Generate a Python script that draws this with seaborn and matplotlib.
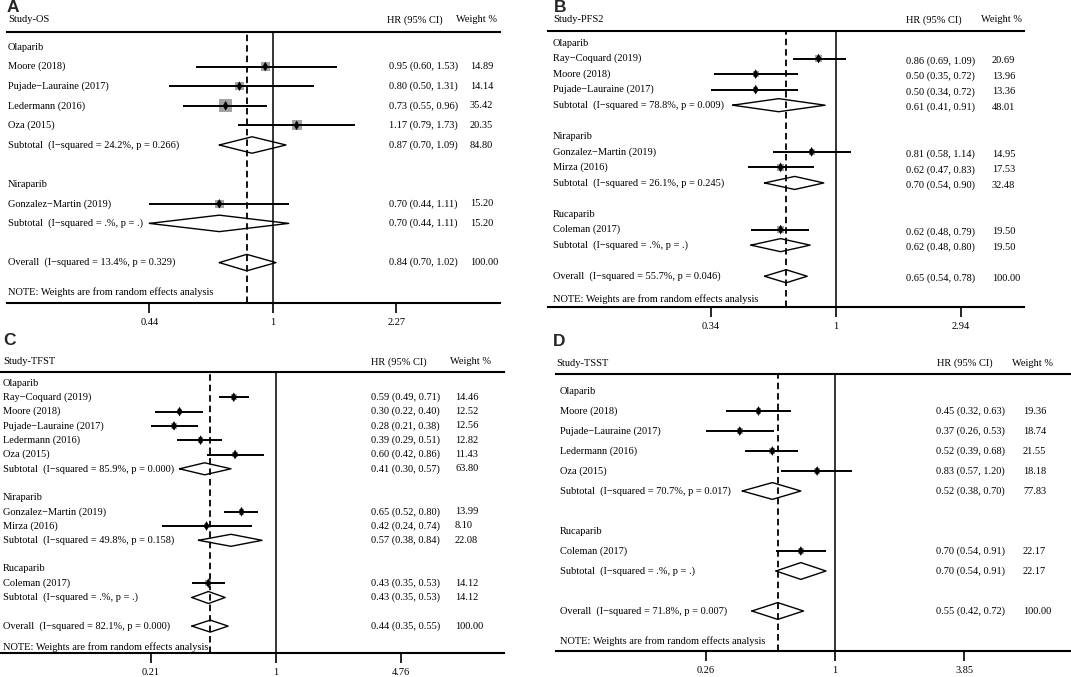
import numpy as np
import pandas as pd
import seaborn as sns
import matplotlib.pyplot as plt
from matplotlib.ticker import NullLocator
from matplotlib.transforms import blended_transform_factory

# ---- A: overall survival ----
os_groups = ["Olaparib", "Niraparib"]
os_group_idx = [0, 0, 0, 0, 1]
os_studies = ["Moore (2018)", "Pujade\u2212Lauraine (2017)", "Ledermann (2016)", "Oza (2015)",
              "Gonzalez\u2212Martin (2019)"]
os_hr = [0.95, 0.80, 0.73, 1.17, 0.70]
os_lo = [0.60, 0.50, 0.55, 0.79, 0.44]
os_hi = [1.53, 1.31, 0.96, 1.73, 1.11]
os_weight = [14.89, 14.14, 35.42, 20.35, 15.20]
os_sub_hr = [0.87, 0.70]
os_sub_lo = [0.70, 0.44]
os_sub_hi = [1.09, 1.11]
os_sub_weight = [84.80, 15.20]
os_sub_i2 = ["24.2%", ".%"]
os_sub_p = ["0.266", "."]
os_overall = [0.84, 0.70, 1.02, 100.00]
os_overall_het = ["13.4%", "0.329"]
os_ticks = [0.44, 1, 2.27]

# ---- B: PFS2 ----
pfs2_groups = ["Olaparib", "Niraparib", "Rucaparib"]
pfs2_group_idx = [0, 0, 0, 1, 1, 2]
pfs2_studies = ["Ray\u2212Coquard (2019)", "Moore (2018)", "Pujade\u2212Lauraine (2017)",
                "Gonzalez\u2212Martin (2019)", "Mirza (2016)", "Coleman (2017)"]
pfs2_hr = [0.86, 0.50, 0.50, 0.81, 0.62, 0.62]
pfs2_lo = [0.69, 0.35, 0.34, 0.58, 0.47, 0.48]
pfs2_hi = [1.09, 0.72, 0.72, 1.14, 0.83, 0.79]
pfs2_weight = [20.69, 13.96, 13.36, 14.95, 17.53, 19.50]
pfs2_sub_hr = [0.61, 0.70, 0.62]
pfs2_sub_lo = [0.41, 0.54, 0.48]
pfs2_sub_hi = [0.91, 0.90, 0.80]
pfs2_sub_weight = [48.01, 32.48, 19.50]
pfs2_sub_i2 = ["78.8%", "26.1%", ".%"]
pfs2_sub_p = ["0.009", "0.245", "."]
pfs2_overall = [0.65, 0.54, 0.78, 100.00]
pfs2_overall_het = ["55.7%", "0.046"]
pfs2_ticks = [0.34, 1, 2.94]

# ---- C: TFST ----
tfst_groups = ["Olaparib", "Niraparib", "Rucaparib"]
tfst_group_idx = [0, 0, 0, 0, 0, 1, 1, 2]
tfst_studies = ["Ray\u2212Coquard (2019)", "Moore (2018)", "Pujade\u2212Lauraine (2017)",
                "Ledermann (2016)", "Oza (2015)", "Gonzalez\u2212Martin (2019)", "Mirza (2016)",
                "Coleman (2017)"]
tfst_hr = [0.59, 0.30, 0.28, 0.39, 0.60, 0.65, 0.42, 0.43]
tfst_lo = [0.49, 0.22, 0.21, 0.29, 0.42, 0.52, 0.24, 0.35]
tfst_hi = [0.71, 0.40, 0.38, 0.51, 0.86, 0.80, 0.74, 0.53]
tfst_weight = [14.46, 12.52, 12.56, 12.82, 11.43, 13.99, 8.10, 14.12]
tfst_sub_hr = [0.41, 0.57, 0.43]
tfst_sub_lo = [0.30, 0.38, 0.35]
tfst_sub_hi = [0.57, 0.84, 0.53]
tfst_sub_weight = [63.80, 22.08, 14.12]
tfst_sub_i2 = ["85.9%", "49.8%", ".%"]
tfst_sub_p = ["0.000", "0.158", "."]
tfst_overall = [0.44, 0.35, 0.55, 100.00]
tfst_overall_het = ["82.1%", "0.000"]
tfst_ticks = [0.21, 1, 4.76]

# ---- D: TSST ----
tsst_groups = ["Olaparib", "Rucaparib"]
tsst_group_idx = [0, 0, 0, 0, 1]
tsst_studies = ["Moore (2018)", "Pujade\u2212Lauraine (2017)", "Ledermann (2016)", "Oza (2015)",
                "Coleman (2017)"]
tsst_hr = [0.45, 0.37, 0.52, 0.83, 0.70]
tsst_lo = [0.32, 0.26, 0.39, 0.57, 0.54]
tsst_hi = [0.63, 0.53, 0.68, 1.20, 0.91]
tsst_weight = [19.36, 18.74, 21.55, 18.18, 22.17]
tsst_sub_hr = [0.52, 0.70]
tsst_sub_lo = [0.38, 0.54]
tsst_sub_hi = [0.70, 0.91]
tsst_sub_weight = [77.83, 22.17]
tsst_sub_i2 = ["70.7%", ".%"]
tsst_sub_p = ["0.017", "."]
tsst_overall = [0.55, 0.42, 0.72, 100.00]
tsst_overall_het = ["71.8%", "0.007"]
tsst_ticks = [0.26, 1, 3.85]

W, H = 1071, 677
FS = 7.5

sns.set_theme(style="white")
plt.rcParams['font.family'] = ['Liberation Serif', 'DejaVu Serif']


def forest(fig, letter, title, groups, gidx, studies, hr, lo, hi, w,
           sub_hr, sub_lo, sub_hi, sub_w, sub_i2, sub_p, overall, overall_het, ticks, L):
    """ one Stata-style forest plot panel, laid out in pixel units """
    ax = fig.add_axes([L['left'] / W, 1 - L['bottom'] / H,
                       (L['right'] - L['left']) / W, (L['bottom'] - L['top']) / H])
    ax.set_xscale('log')
    ax.set_xlim(np.exp((L['left'] - L['x1']) / L['ppl']), np.exp((L['right'] - L['x1']) / L['ppl']))
    ax.set_ylim((L['bottom'] - L['row0']) / L['drow'], (L['top'] - L['row0']) / L['drow'])

    # row positions
    rows_group, rows_study, rows_sub = [], [], []
    r = 0
    for g in range(len(groups)):
        rows_group.append(r)
        r += 1
        for i in range(len(studies)):
            if gidx[i] == g:
                rows_study.append(r)
                r += 1
        rows_sub.append(r)
        r += 2
    r_all = r

    # reference lines
    ax.axvline(1, color='black', lw=1.1, zorder=1)
    ax.axvline(overall[0], color='black', lw=1.3, ls=(0, (3.6, 2.2)), zorder=1)

    # study boxes, CIs, point estimates
    df = pd.DataFrame({'hr': hr, 'row': rows_study, 'w': w})
    amax = (0.72 * L['box'] * L['drow']) ** 2 * max(w)
    sns.scatterplot(data=df, x='hr', y='row', size='w', sizes=(0, amax), size_norm=(0, max(w)),
                    marker='s', color='#a3a3a3', edgecolor='none', legend=False, ax=ax, zorder=2)
    ax.hlines(rows_study, lo, hi, color='black', lw=1.4, zorder=3)
    sns.scatterplot(data=df, x='hr', y='row', marker='d', s=24, color='black',
                    edgecolor='none', legend=False, ax=ax, zorder=4)

    # pooled diamonds
    h = 0.42
    for est, l, u, y in zip(sub_hr + [overall[0]], sub_lo + [overall[1]],
                            sub_hi + [overall[2]], rows_sub + [r_all]):
        ax.plot([l, est, u, est, l], [y, y - h, y, y + h, y], color='black', lw=1.0, zorder=3)

    # text columns
    tr = blended_transform_factory(fig.transFigure, ax.transData)
    kw = dict(transform=tr, va='center', fontsize=FS, color='black', clip_on=False)
    lx, hx, wx = L['lab_x'] / W, L['hr_x'] / W, L['w_x'] / W
    dy = L['dy']
    hy = (L['hdr_y'] - L['row0']) / L['drow']
    ax.text(lx if L['title_x'] is None else L['title_x'] / W, hy, title, **kw)
    ax.text(L['hhr_x'] / W, hy, "HR (95% CI)", **kw)
    ax.text(L['hw_x'] / W, hy, "Weight %", **kw)
    for g, y in zip(groups, rows_group):
        ax.text(lx, y, g, **kw)
    for s, y, e, l, u, ww in zip(studies, rows_study, hr, lo, hi, w):
        ax.text(lx, y, s, **kw)
        ax.text(hx, y + dy, f"{e:.2f} ({l:.2f}, {u:.2f})", **kw)
        ax.text(wx, y + dy, f"{ww:.2f}", **kw)
    for y, e, l, u, ww, i2, p in zip(rows_sub, sub_hr, sub_lo, sub_hi, sub_w, sub_i2, sub_p):
        ax.text(lx, y, f"Subtotal  (I\u2212squared = {i2}, p = {p})", **kw)
        ax.text(hx, y + dy, f"{e:.2f} ({l:.2f}, {u:.2f})", **kw)
        ax.text(wx, y + dy, f"{ww:.2f}", **kw)
    ax.text(lx, r_all, f"Overall  (I\u2212squared = {overall_het[0]}, p = {overall_het[1]})", **kw)
    ax.text(hx, r_all + dy, f"{overall[0]:.2f} ({overall[1]:.2f}, {overall[2]:.2f})", **kw)
    ax.text(wx, r_all + dy, f"{overall[3]:.2f}", **kw)
    ax.text(lx, r_all + 1.5, "NOTE: Weights are from random effects analysis", **kw)

    # axes cosmetics
    ax.set_xticks(ticks)
    ax.set_xticklabels([f"{t:g}" for t in ticks])
    ax.xaxis.set_minor_locator(NullLocator())
    ax.set_yticks([])
    ax.set_xlabel('')
    ax.set_ylabel('')
    ax.tick_params(axis='x', direction='out', length=7, width=1.2, pad=3.5,
                   labelsize=FS, colors='black', bottom=True)
    for side in ['left', 'right']:
        ax.spines[side].set_visible(False)
    for side in ['top', 'bottom']:
        ax.spines[side].set_visible(True)
        ax.spines[side].set_color('black')
        ax.spines[side].set_linewidth(1.5)
    ax.patch.set_alpha(0)

    fig.text(L['let_x'] / W, 1 - L['let_y'] / H, letter, fontsize=12.5, fontweight='bold',
             family='Liberation Sans', va='center', ha='left')


lay_a = dict(left=7, right=500, top=32, bottom=303, x1=273, ppl=150.5, row0=47, drow=19.6,
             lab_x=8, hr_x=389, w_x=470, hhr_x=387, hw_x=456, hdr_y=20, title_x=None,
             let_x=7, let_y=8, box=0.112, dy=0.0)
lay_b = dict(left=548, right=1024, top=31, bottom=307, x1=836, ppl=115.9, row0=43, drow=15.55,
             lab_x=553, hr_x=906, w_x=992, hhr_x=906, hw_x=981, hdr_y=20, title_x=None,
             let_x=554, let_y=8, box=0.099, dy=0.15)
lay_c = dict(left=0, right=504, top=372, bottom=653, x1=276, ppl=80.1, row0=383, drow=14.3,
             lab_x=3, hr_x=371, w_x=455, hhr_x=371, hw_x=450, hdr_y=362, title_x=None,
             let_x=3, let_y=340, box=0.11, dy=0.0)
lay_d = dict(left=556, right=1071, top=374, bottom=651, x1=835, ppl=95.8, row0=391, drow=20,
             lab_x=560, hr_x=936, w_x=1023, hhr_x=937, hw_x=1012, hdr_y=363, title_x=556,
             let_x=553, let_y=341, box=0.065, dy=0.0)

fig = plt.figure(figsize=(W / 100, H / 100), dpi=100)
fig.patch.set_facecolor('white')

forest(fig, 'A', 'Study-OS', os_groups, os_group_idx, os_studies, os_hr, os_lo, os_hi, os_weight,
       os_sub_hr, os_sub_lo, os_sub_hi, os_sub_weight, os_sub_i2, os_sub_p,
       os_overall, os_overall_het, os_ticks, lay_a)
forest(fig, 'B', 'Study-PFS2', pfs2_groups, pfs2_group_idx, pfs2_studies, pfs2_hr, pfs2_lo, pfs2_hi,
       pfs2_weight, pfs2_sub_hr, pfs2_sub_lo, pfs2_sub_hi, pfs2_sub_weight, pfs2_sub_i2, pfs2_sub_p,
       pfs2_overall, pfs2_overall_het, pfs2_ticks, lay_b)
forest(fig, 'C', 'Study-TFST', tfst_groups, tfst_group_idx, tfst_studies, tfst_hr, tfst_lo, tfst_hi,
       tfst_weight, tfst_sub_hr, tfst_sub_lo, tfst_sub_hi, tfst_sub_weight, tfst_sub_i2, tfst_sub_p,
       tfst_overall, tfst_overall_het, tfst_ticks, lay_c)
forest(fig, 'D', 'Study-TSST', tsst_groups, tsst_group_idx, tsst_studies, tsst_hr, tsst_lo, tsst_hi,
       tsst_weight, tsst_sub_hr, tsst_sub_lo, tsst_sub_hi, tsst_sub_weight, tsst_sub_i2, tsst_sub_p,
       tsst_overall, tsst_overall_het, tsst_ticks, lay_d)

fig.savefig('out.png', dpi=100)
